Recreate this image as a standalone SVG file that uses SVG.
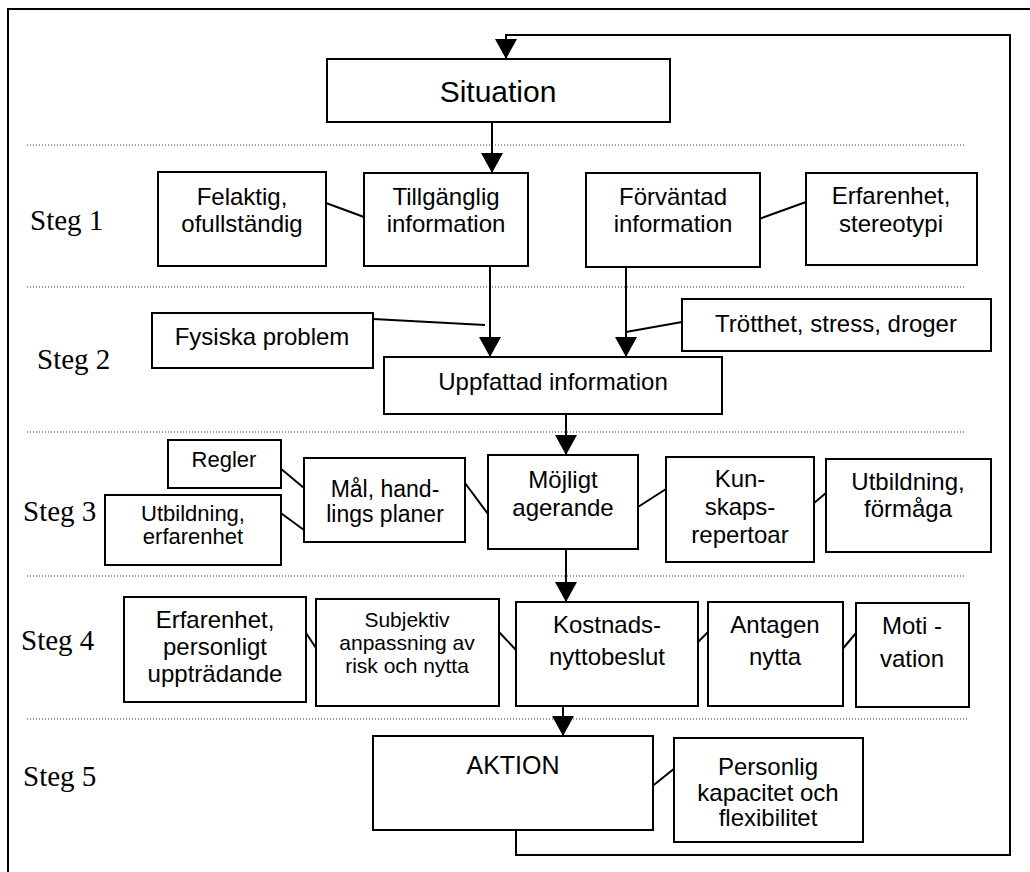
<svg xmlns="http://www.w3.org/2000/svg" width="1030" height="872" viewBox="0 0 1030 872">
<style>
.box{fill:#fff;stroke:#000;stroke-width:2}
.t{font-family:"Liberation Sans",Arial,sans-serif;font-size:24px;fill:#000;text-anchor:middle}
.s{font-family:"Liberation Serif","Times New Roman",serif;font-size:29px;fill:#000}
.dot{stroke:#333;stroke-width:1;stroke-dasharray:1 2;fill:none}
.ln{stroke:#000;stroke-width:2;fill:none}
.ar{stroke:#000;stroke-width:2;fill:none;marker-end:url(#ah)}
</style>
<defs>
<marker id="ah" markerUnits="userSpaceOnUse" markerWidth="20" markerHeight="22" refX="20" refY="11" orient="auto">
<path d="M0,0 L20,11 L0,22 Z" fill="#000"/>
</marker>
</defs>
<rect width="1030" height="872" fill="#fff"/>
<path d="M8,872 L8,9 L1030,9" fill="none" stroke="#000" stroke-width="2"/>
<g id="separators">
<line class="dot" x1="27" y1="145" x2="966" y2="145"/>
<line class="dot" x1="27" y1="287" x2="966" y2="287"/>
<line class="dot" x1="27" y1="432" x2="966" y2="432"/>
<line class="dot" x1="27" y1="576" x2="966" y2="576"/>
<line class="dot" x1="27" y1="719" x2="969" y2="719"/>
</g>
<g id="labels">
<text class="s" x="30" y="230">Steg 1</text>
<text class="s" x="37" y="369">Steg 2</text>
<text class="s" x="23" y="521">Steg 3</text>
<text class="s" x="21" y="650">Steg 4</text>
<text class="s" x="23" y="786">Steg 5</text>
</g>
<g id="connectors">
<line class="ar" x1="492" y1="122" x2="492" y2="173"/>
<line class="ar" x1="490" y1="262" x2="490" y2="357"/>
<line class="ar" x1="626" y1="265" x2="626" y2="357"/>
<line class="ar" x1="566" y1="414" x2="566" y2="455"/>
<line class="ar" x1="566" y1="549" x2="566" y2="602"/>
<line class="ar" x1="563" y1="706" x2="563" y2="736"/>
<polyline class="ar" points="516,826 516,855 1010,855 1010,35 506,35 506,59"/>
<line class="ln" x1="326" y1="203" x2="364" y2="217"/>
<line class="ln" x1="759" y1="219" x2="806" y2="202"/>
<line class="ln" x1="373" y1="319" x2="485" y2="325"/>
<line class="ln" x1="626" y1="332" x2="682" y2="322"/>
<line class="ln" x1="280" y1="468" x2="304" y2="488"/>
<line class="ln" x1="278" y1="511" x2="304" y2="530"/>
<line class="ln" x1="465" y1="483" x2="488" y2="514"/>
<line class="ln" x1="638" y1="507" x2="666" y2="489"/>
<line class="ln" x1="814" y1="503" x2="826" y2="493"/>
<line class="ln" x1="306" y1="633" x2="316" y2="648"/>
<line class="ln" x1="499" y1="632" x2="516" y2="650"/>
<line class="ln" x1="696" y1="644" x2="708" y2="632"/>
<line class="ln" x1="840" y1="652" x2="856" y2="633"/>
<line class="ln" x1="650" y1="788" x2="675" y2="768"/>
</g>
<g id="situation"><rect class="box" x="327" y="59" width="343" height="63"/><text class="t" x="498" y="102" style="font-size:30px">Situation</text></g>
<g id="felaktig"><rect class="box" x="158" y="172" width="168" height="94"/><text class="t" x="242" y="205">Felaktig,</text><text class="t" x="242" y="232">ofullständig</text></g>
<g id="tillganglig"><rect class="box" x="364" y="173" width="164" height="93"/><text class="t" x="446" y="205">Tillgänglig</text><text class="t" x="446" y="232">information</text></g>
<g id="forvantad"><rect class="box" x="586" y="173" width="174" height="94"/><text class="t" x="673" y="205">Förväntad</text><text class="t" x="673" y="232">information</text></g>
<g id="erfarenhet1"><rect class="box" x="806" y="173" width="171" height="92"/><text class="t" x="891" y="204">Erfarenhet,</text><text class="t" x="891" y="232">stereotypi</text></g>
<g id="fysiska"><rect class="box" x="152" y="313" width="221" height="55"/><text class="t" x="262" y="345">Fysiska problem</text></g>
<g id="trotthet"><rect class="box" x="682" y="299" width="309" height="52"/><text class="t" x="836" y="332">Trötthet, stress, droger</text></g>
<g id="uppfattad"><rect class="box" x="384" y="357" width="338" height="57"/><text class="t" x="553" y="390">Uppfattad information</text></g>
<g id="regler"><rect class="box" x="168" y="440" width="113" height="48"/><text class="t" x="224" y="467" style="font-size:22px">Regler</text></g>
<g id="utbildning1"><rect class="box" x="105" y="495" width="176" height="70"/><text class="t" x="193" y="521" style="font-size:22px">Utbildning,</text><text class="t" x="193" y="544" style="font-size:22px">erfarenhet</text></g>
<g id="mal"><rect class="box" x="304" y="458" width="161" height="84"/><text class="t" x="385" y="497" style="font-size:23px">Mål, hand-</text><text class="t" x="385" y="522" style="font-size:23px">lings planer</text></g>
<g id="mojligt"><rect class="box" x="488" y="455" width="150" height="94"/><text class="t" x="563" y="488">Möjligt</text><text class="t" x="563" y="516">agerande</text></g>
<g id="kunskaps"><rect class="box" x="666" y="457" width="148" height="105"/><text class="t" x="740" y="487">Kun-</text><text class="t" x="740" y="515">skaps-</text><text class="t" x="740" y="543">repertoar</text></g>
<g id="utbildning2"><rect class="box" x="826" y="459" width="165" height="93"/><text class="t" x="908" y="490">Utbildning,</text><text class="t" x="908" y="517">förmåga</text></g>
<g id="erfarenhet2"><rect class="box" x="124" y="597" width="182" height="105"/><text class="t" x="215" y="628">Erfarenhet,</text><text class="t" x="215" y="655">personligt</text><text class="t" x="215" y="682">uppträdande</text></g>
<g id="subjektiv"><rect class="box" x="316" y="599" width="183" height="107"/><text class="t" x="407" y="627" style="font-size:21px">Subjektiv</text><text class="t" x="407" y="650" style="font-size:21px">anpassning av</text><text class="t" x="407" y="673" style="font-size:21px">risk och nytta</text></g>
<g id="kostnads"><rect class="box" x="516" y="602" width="182" height="104"/><text class="t" x="607" y="633">Kostnads-</text><text class="t" x="607" y="665">nyttobeslut</text></g>
<g id="antagen"><rect class="box" x="708" y="602" width="135" height="104"/><text class="t" x="775" y="633">Antagen</text><text class="t" x="775" y="665">nytta</text></g>
<g id="motivation"><rect class="box" x="856" y="603" width="113" height="104"/><text class="t" x="912" y="634">Moti -</text><text class="t" x="912" y="667">vation</text></g>
<g id="aktion"><rect class="box" x="373" y="736" width="280" height="94"/><text class="t" x="513" y="774" style="font-size:25px">AKTION</text></g>
<g id="personlig"><rect class="box" x="674" y="738" width="189" height="104"/><text class="t" x="768" y="775">Personlig</text><text class="t" x="768" y="801">kapacitet och</text><text class="t" x="768" y="826">flexibilitet</text></g>
</svg>
